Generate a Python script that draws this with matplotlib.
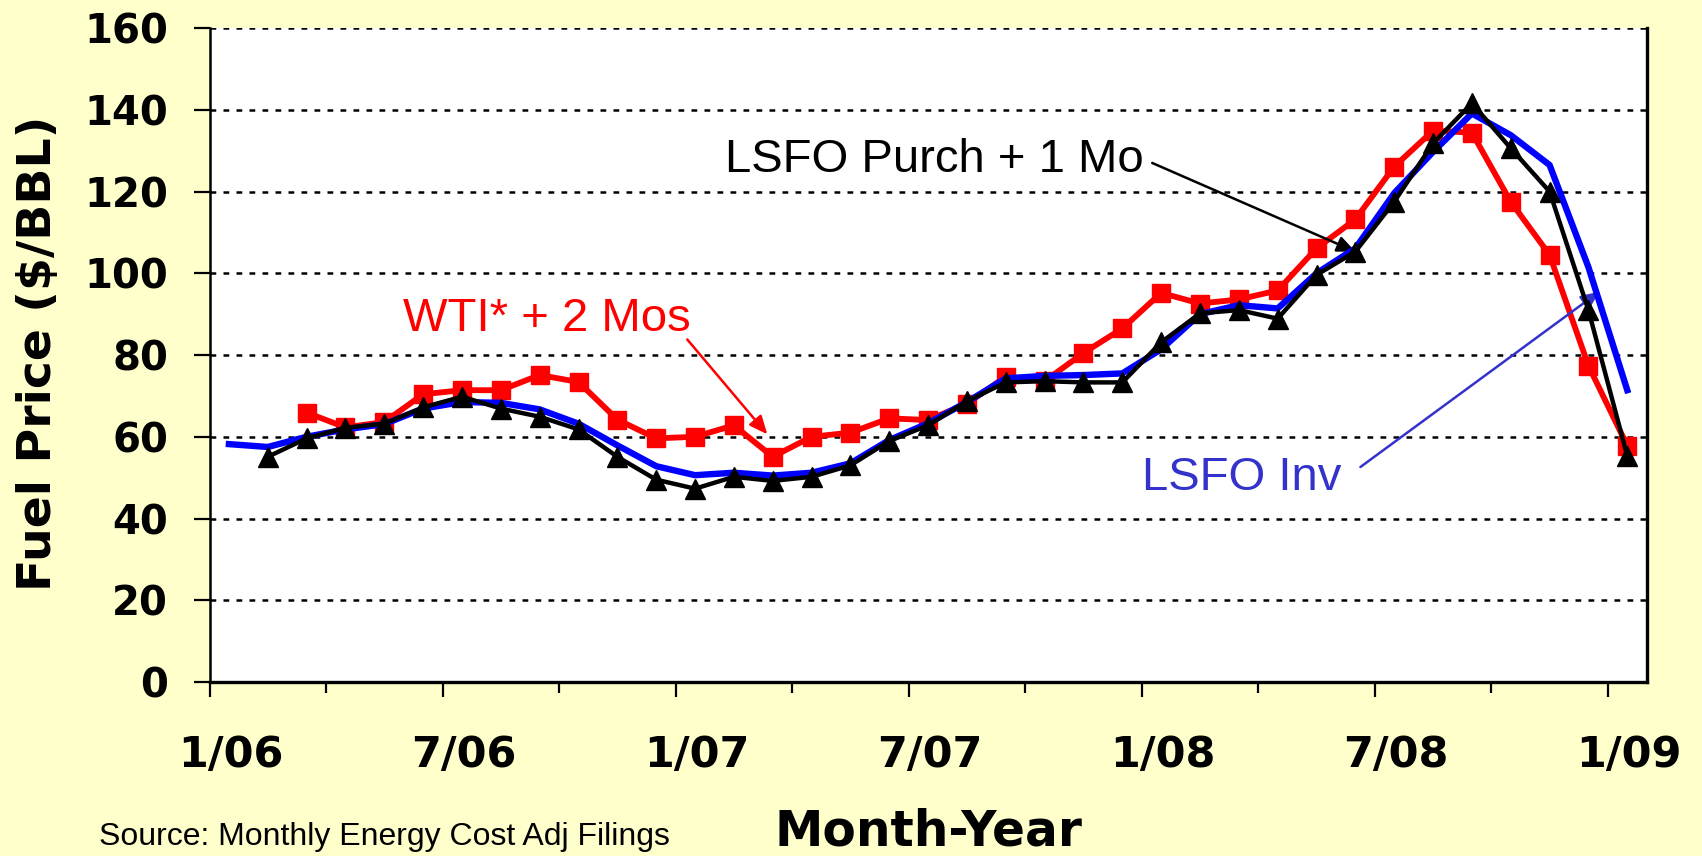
import matplotlib
matplotlib.use('Agg')
import matplotlib.pyplot as plt
import matplotlib.transforms as mtransforms
import numpy as np

nan = np.nan

# monthly values, 1/06 .. 1/09 (37 months)
tick_labels = ['1/06', '7/06', '1/07', '7/07', '1/08', '7/08', '1/09']

lsfo_inv = [58.2, 57.5, 60.0, 61.8, 63.1, 66.9, 68.5, 68.3, 66.7, 63.2,
            57.9, 52.8, 50.6, 51.2, 50.5, 51.2, 53.5, 59.2, 63.3, 68.5,
            74.3, 74.9, 75.1, 75.5, 81.4, 90.0, 92.2, 91.4, 100.0, 106.1,
            119.6, 129.7, 139.1, 133.8, 126.5, 101.5, 71.4]

lsfo_purch = [nan, 55.1, 59.6, 62.2, 63.2, 67.2, 69.8, 66.9, 64.9, 61.8,
              55.1, 49.5, 47.3, 50.2, 49.2, 50.2, 53.0, 59.0, 62.8, 68.7,
              73.3, 73.6, 73.3, 73.3, 83.1, 90.2, 91.0, 88.9, 99.6, 105.3,
              117.5, 131.8, 141.6, 130.6, 120.0, 91.0, 55.3]

wti = [nan, nan, 65.9, 62.3, 63.6, 70.4, 71.4, 71.4, 75.1, 73.4,
       64.2, 59.6, 60.0, 62.8, 55.1, 60.0, 61.0, 64.5, 64.1, 68.1,
       74.7, 73.6, 80.5, 86.5, 95.2, 92.6, 93.6, 95.8, 106.1, 113.2,
       126.1, 134.9, 134.4, 117.5, 104.5, 77.4, 57.8]

x = np.arange(len(lsfo_inv)) + 0.5  # points sit in the middle of each month

fig = plt.figure(figsize=(17.02, 8.56), dpi=100, facecolor='#FFFFCC')
ax = fig.add_axes([0.1231, 0.2033, 0.8444, 0.7639])
ax.set_facecolor('white')

ax.plot(x, wti, color='red', lw=4.2, marker='s', ms=12.5, mec='red', zorder=3)
ax.plot(x, lsfo_inv, color='blue', lw=4.6, zorder=4)
ax.plot(x, lsfo_purch, color='black', lw=3.2, marker='^', ms=15, mec='black', zorder=5)

ax.set_xlim(0, 37)
ax.set_ylim(0, 160)
ax.set_yticks(range(0, 161, 20))
ax.yaxis.grid(True, color='black', lw=1.8, linestyle=(0, (2.3, 2.9)))
ax.set_axisbelow(True)

ax.spines['top'].set_visible(False)
ax.spines['left'].set_linewidth(1.8)
ax.spines['bottom'].set_linewidth(2.4)
ax.spines['right'].set_linewidth(2.4)

ax.set_xticks(range(0, 37, 6))
ax.set_xticklabels(tick_labels)
ax.set_xticks(range(3, 37, 6), minor=True)
ax.tick_params(axis='y', direction='out', length=11.3, width=1.6, pad=18.5, labelsize=29)
ax.tick_params(axis='x', which='major', direction='out', length=10.8, width=1.6, pad=27, labelsize=31)
ax.tick_params(axis='x', which='minor', direction='out', length=8, width=1.6)

shift = mtransforms.ScaledTranslation(0.21, 0, fig.dpi_scale_trans)
for lab in ax.get_xticklabels():
    lab.set_fontweight('bold')
    lab.set_transform(lab.get_transform() + shift)
for lab in ax.get_yticklabels():
    lab.set_fontweight('bold')

fig.text(50.7 / 1702, 1 - 353.5 / 856, 'Fuel Price ($/BBL)', rotation=90,
         rotation_mode='anchor', ha='center', va='baseline',
         fontsize=34, fontweight='bold')
fig.text(928 / 1702, 1 - 846 / 856, 'Month-Year', ha='center', va='baseline',
         fontsize=35, fontweight='bold')
fig.text(99.4 / 1702, 1 - 845 / 856, 'Source: Monthly Energy Cost Adj Filings',
         ha='left', va='baseline', fontsize=23, family='Liberation Sans')

# annotations
ax.text(4.99, 85.9, 'WTI* + 2 Mos', color='red', fontsize=34,
        family='Liberation Sans', va='baseline')
ax.annotate('', xy=(14.36, 60.6), xytext=(12.30, 83.8),
            arrowprops=dict(arrowstyle='-|>,head_length=0.5,head_width=0.22',
                            color='red', lw=1.8, mutation_scale=22,
                            shrinkA=0, shrinkB=0))

ax.text(13.27, 124.8, 'LSFO Purch + 1 Mo', color='black', fontsize=34,
        family='Liberation Sans', va='baseline')
ax.annotate('', xy=(x[29], lsfo_purch[29]), xytext=(24.27, 127.0),
            arrowprops=dict(arrowstyle='-|>,head_length=0.5,head_width=0.22',
                            color='black', lw=1.8, mutation_scale=22,
                            shrinkA=0, shrinkB=0))

ax.text(24.0, 46.9, 'LSFO Inv', color='#3333CC', fontsize=34,
        family='Liberation Sans', va='baseline')
ax.annotate('', xy=(35.78, 95.5), xytext=(29.63, 52.6),
            arrowprops=dict(arrowstyle='-|>,head_length=0.5,head_width=0.22',
                            color='#3333CC', lw=1.8, mutation_scale=22,
                            shrinkA=0, shrinkB=0))

fig.savefig('out.png', dpi=100, facecolor=fig.get_facecolor())
